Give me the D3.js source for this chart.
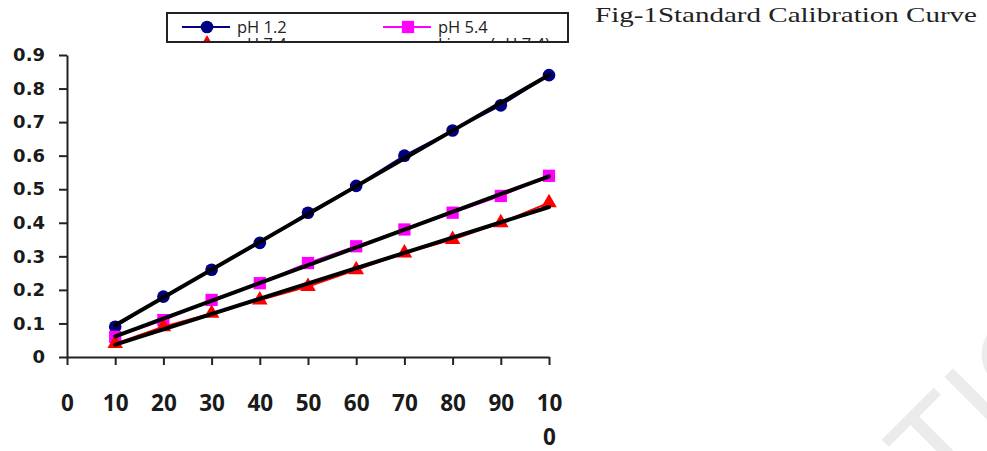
<!DOCTYPE html>
<html>
<head>
<meta charset="utf-8">
<script src="https://cdn.jsdelivr.net/npm/d3@7"></script>
<style>
  body { margin: 0; background: #fff; }
</style>
</head>
<body>
<svg></svg>
<script>
//data
const conc = [10, 20, 30, 40, 50, 60, 70, 80, 90, 100];
const ph12 = [0.09, 0.18, 0.26, 0.34, 0.43, 0.51, 0.60, 0.675, 0.75, 0.84];
const ph54 = [0.06, 0.11, 0.17, 0.22, 0.28, 0.33, 0.38, 0.43, 0.48, 0.54];
const ph74 = [0.04, 0.09, 0.13, 0.17, 0.21, 0.26, 0.31, 0.35, 0.40, 0.46];
const xTicks = [0, 10, 20, 30, 40, 50, 60, 70, 80, 90, 100];
const yTicks = [0, 0.1, 0.2, 0.3, 0.4, 0.5, 0.6, 0.7, 0.8, 0.9];
const legendNames = ["pH 1.2", "pH 5.4", "pH 7.4", "Linear (pH 7.4)"];
const title = "Fig-1Standard Calibration Curve";
const watermark = "TIO";

//constants
const width = 987, height = 451;
const plot = {left: 67, right: 549, top: 55, bottom: 357};

const series = [
    {name: legendNames[0], values: ph12, color: "#000080", shape: "circle"},
    {name: legendNames[1], values: ph54, color: "#ff00ff", shape: "square"},
    {name: legendNames[2], values: ph74, color: "#ff0000", shape: "triangle"}
];

//least squares line for each series
function fit(ys) {
    let mx = d3.mean(conc), my = d3.mean(ys);
    let sxy = d3.sum(conc, (x, i) => (x - mx) * (ys[i] - my));
    let sxx = d3.sum(conc, x => (x - mx) * (x - mx));
    let b = sxy / sxx;
    return x => my + b * (x - mx);
}

//scales
let xScale = d3.scaleLinear().domain([0, 100]).range([plot.left, plot.right]);
let yScale = d3.scaleLinear().domain([0, 0.9]).range([plot.bottom, plot.top]);

let symbols = {
    circle: d3.symbol().type(d3.symbolCircle).size(125),
    square: d3.symbol().type(d3.symbolSquare).size(150),
    triangle: d3.symbol().type(d3.symbolTriangle).size(105)
};

//canvas
let svg = d3.select("svg")
    .attr("width", width)
    .attr("height", height)
    .style("background-color", "#fff");

//watermark
svg.append("text")
    .attr("transform", "translate(943,505) rotate(-45)")
    .style("font-family", "Liberation Sans")
    .style("font-size", "130px")
    .style("fill", "#ebebeb")
    .text(watermark);

//title
svg.append("text")
    .attr("x", 595)
    .attr("y", 22)
    .attr("textLength", 382)
    .attr("lengthAdjust", "spacingAndGlyphs")
    .style("font-family", "Liberation Serif")
    .style("font-size", "22px")
    .style("fill", "#222")
    .text(title);

//axes
let yAxis = svg.append("g")
    .attr("transform", "translate(" + plot.left + ",0)")
    .call(d3.axisLeft(yScale)
        .tickValues(yTicks)
        .tickSize(8)
        .tickSizeOuter(0)
        .tickPadding(14)
        .tickFormat(d => d === 0 ? "0" : d.toFixed(1)));

yAxis.selectAll("text")
    .style("font-family", "DejaVu Sans")
    .style("font-weight", "bold")
    .style("font-size", "18px")
    .style("fill", "#1a1a1a");

let xAxis = svg.append("g")
    .attr("transform", "translate(0," + plot.bottom + ")")
    .call(d3.axisBottom(xScale)
        .tickValues(xTicks)
        .tickSize(8)
        .tickSizeOuter(0)
        .tickFormat(""));

//x labels, 100 wraps onto two lines
xAxis.selectAll(".tick").each(function(d) {
    let t = d3.select(this).select("text")
        .attr("y", 54)
        .attr("dy", null)
        .style("font-family", "Open Sans")
        .style("font-weight", "bold")
        .style("font-size", "22.5px")
        .style("fill", "#1a1a1a");
    let s = String(d);
    if (s.length > 2) {
        t.append("tspan").attr("x", 0).text(s.slice(0, 2));
        t.append("tspan").attr("x", 0).attr("dy", 34).text(s.slice(2));
    } else {
        t.text(s);
    }
});

svg.selectAll(".domain, .tick line")
    .attr("stroke", "#222")
    .attr("stroke-width", 2);

//series lines and markers
let line = d3.line()
    .x((d, i) => xScale(conc[i]))
    .y(d => yScale(d));

series.forEach(s => {
    svg.append("path")
        .datum(s.values)
        .attr("d", line)
        .attr("fill", "none")
        .attr("stroke", s.color)
        .attr("stroke-width", 2);

    svg.append("g")
        .selectAll("path")
        .data(s.values)
        .enter()
        .append("path")
        .attr("d", symbols[s.shape])
        .attr("transform", (d, i) => "translate(" + xScale(conc[i]) + "," + yScale(d) + ")")
        .style("fill", s.color);
});

//trendlines
series.forEach(s => {
    let f = fit(s.values);
    let ends = [conc[0], conc[conc.length - 1]];
    svg.append("line")
        .attr("x1", xScale(ends[0]))
        .attr("y1", yScale(f(ends[0])))
        .attr("x2", xScale(ends[1]))
        .attr("y2", yScale(f(ends[1])))
        .attr("stroke", "#000")
        .attr("stroke-width", 4)
        .attr("stroke-linecap", "round");
});

//legend (second row is cut off by the box)
let box = {x: 167, y: 13, w: 401, h: 29};
svg.append("clipPath")
    .attr("id", "legclip")
    .append("rect")
    .attr("x", box.x).attr("y", box.y)
    .attr("width", box.w).attr("height", box.h);

svg.append("rect")
    .attr("x", box.x).attr("y", box.y)
    .attr("width", box.w).attr("height", box.h)
    .attr("fill", "#fff");

let legend = svg.append("g").attr("clip-path", "url(#legclip)");

let items = [
    {name: legendNames[0], color: "#000080", shape: "circle", x: 182, y: 27},
    {name: legendNames[1], color: "#ff00ff", shape: "square", x: 383, y: 27},
    {name: legendNames[2], color: "#ff0000", shape: "triangle", x: 182, y: 44},
    {name: legendNames[3], color: "#000", shape: null, x: 383, y: 44}
];

items.forEach(it => {
    legend.append("line")
        .attr("x1", it.x).attr("x2", it.x + 48)
        .attr("y1", it.y).attr("y2", it.y)
        .attr("stroke", it.shape ? it.color : "#000")
        .attr("stroke-width", it.shape ? 2 : 3.5);
    if (it.shape) {
        legend.append("path")
            .attr("d", symbols[it.shape])
            .attr("transform", "translate(" + (it.x + 25) + "," + it.y + ")")
            .style("fill", it.color);
    }
    legend.append("text")
        .attr("x", it.x + 55)
        .attr("y", it.y + 6)
        .style("font-family", "Open Sans")
        .style("font-size", "16.5px")
        .style("fill", "#222")
        .text(it.name);
});

svg.append("rect")
    .attr("x", box.x).attr("y", box.y)
    .attr("width", box.w).attr("height", box.h)
    .attr("fill", "none")
    .attr("stroke", "#222")
    .attr("stroke-width", 2);
</script>
</body>
</html>
